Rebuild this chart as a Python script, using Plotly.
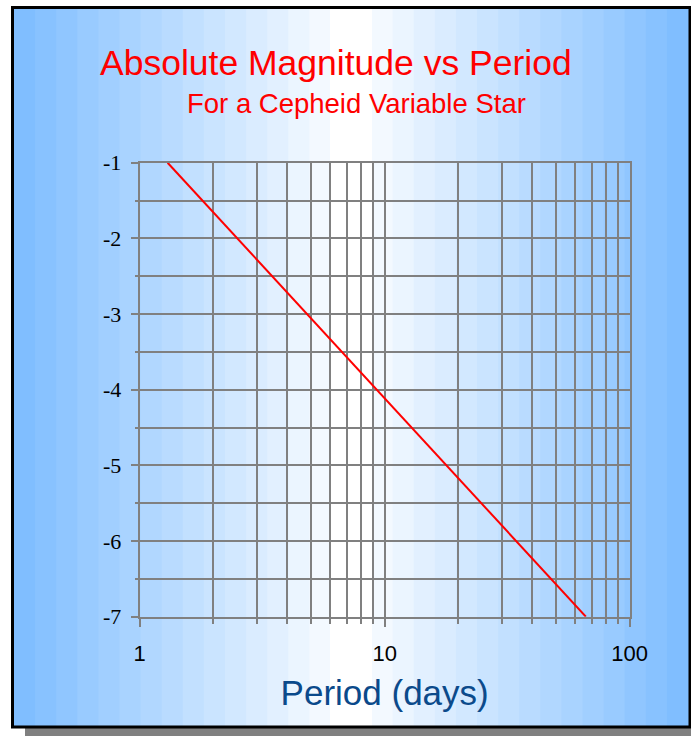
import plotly.graph_objects as go

# Data
period_days = [1.3, 66.3]
abs_magnitude = [-1.0, -7.0]

x_major_ticks = [1, 10, 100]
x_tick_labels = ["1", "10", "100"]
x_minor_ticks = [2, 3, 4, 5, 6, 7, 8, 9, 20, 30, 40, 50, 60, 70, 80, 90]
y_major_ticks = [-1, -2, -3, -4, -5, -6, -7]
y_tick_labels = ["-1", "-2", "-3", "-4", "-5", "-6", "-7"]
y_minor_ticks = [-1.5, -2.5, -3.5, -4.5, -5.5, -6.5]

W, H = 691, 736


def px(x):
    return min(max(x / W, 0), 1)


def py(y):
    return min(max(1 - y / H, 0), 1)


shapes = []
# drop shadow
shapes.append(dict(type="rect", xref="paper", yref="paper", layer="below",
                   x0=px(25), x1=px(691), y0=py(736), y1=py(20),
                   fillcolor="#808080", line=dict(width=0)))
# frame base
shapes.append(dict(type="rect", xref="paper", yref="paper", layer="below",
                   x0=px(12.5), x1=px(690), y0=py(727), y1=py(7.5),
                   fillcolor="rgb(128,190,255)", line=dict(width=0)))
# banded horizontal gradient (blue edges -> white centre)
edge = (128, 190, 255)
n = 15
sw = 21.1
cx = 351
for k in range(n):
    t = (k + 1) / (n + 0.5)
    c = tuple(int(round(e + (255 - e) * t)) for e in edge)
    col = "rgb(%d,%d,%d)" % c
    lx0 = 14 + k * sw
    shapes.append(dict(type="rect", xref="paper", yref="paper", layer="below",
                       x0=px(lx0 + sw), x1=px(cx), y0=py(727), y1=py(7.5),
                       fillcolor=col, line=dict(width=0)))
    rx1 = 688 - k * sw
    shapes.append(dict(type="rect", xref="paper", yref="paper", layer="below",
                       x0=px(cx), x1=px(rx1 - sw), y0=py(727), y1=py(7.5),
                       fillcolor=col, line=dict(width=0)))
shapes.append(dict(type="rect", xref="paper", yref="paper", layer="below",
                   x0=px(cx - 21), x1=px(cx + 21), y0=py(727), y1=py(7.5),
                   fillcolor="white", line=dict(width=0)))
# black border
shapes.append(dict(type="rect", xref="paper", yref="paper", layer="below",
                   x0=px(12.5), x1=px(690), y0=py(727), y1=py(7.5),
                   fillcolor="rgba(0,0,0,0)", line=dict(color="black", width=3)))

fig = go.Figure()
fig.add_trace(go.Scatter(x=period_days, y=abs_magnitude, mode="lines",
                         line=dict(color="#ff0000", width=2), showlegend=False,
                         hoverinfo="skip"))

grid = "#808080"
fig.update_layout(
    width=W, height=H,
    margin=dict(l=0, r=0, t=0, b=0, pad=0, autoexpand=False),
    paper_bgcolor="white",
    plot_bgcolor="rgba(0,0,0,0)",
    shapes=shapes,
    xaxis=dict(
        type="log", range=[0, 2],
        domain=[px(139.7), px(629.6)],
        tickmode="array", tickvals=x_major_ticks, ticktext=x_tick_labels,
        ticks="outside", ticklen=8, tickwidth=2, tickcolor=grid,
        showgrid=True, gridcolor=grid, gridwidth=2,
        showline=True, mirror=True, linecolor=grid, linewidth=2,
        zeroline=False, automargin=False,
        ticklabelstandoff=8,
        tickfont=dict(family="Liberation Sans", size=22, color="black"),
        minor=dict(tickmode="array", tickvals=x_minor_ticks, ticks="outside",
                   ticklen=5, tickwidth=2, tickcolor=grid,
                   showgrid=True, gridcolor=grid, gridwidth=2),
        title=dict(text="Period (days)",
                   font=dict(family="Liberation Sans", size=35, color="#0b4a8b")),
    ),
    yaxis=dict(
        range=[-7, -1],
        domain=[py(616.7), py(162.7)],
        tickmode="array", tickvals=y_major_ticks, ticktext=y_tick_labels,
        ticks="outside", ticklen=7, tickwidth=2, tickcolor=grid,
        showgrid=True, gridcolor=grid, gridwidth=2,
        showline=True, mirror=True, linecolor=grid, linewidth=2,
        zeroline=False, automargin=False,
        ticklabelstandoff=5,
        tickfont=dict(family="Liberation Serif", size=22, color="black"),
        minor=dict(tickmode="array", tickvals=y_minor_ticks, ticks="outside",
                   ticklen=3, tickwidth=2, tickcolor=grid,
                   showgrid=True, gridcolor=grid, gridwidth=2),
    ),
    annotations=[
        dict(text="Absolute Magnitude vs Period", xref="paper", yref="paper",
             x=px(336), y=py(63), xanchor="center", yanchor="middle", showarrow=False,
             font=dict(family="Liberation Sans", size=35.5, color="#ff0000")),
        dict(text="For a Cepheid Variable Star", xref="paper", yref="paper",
             x=px(356), y=py(103), xanchor="center", yanchor="middle", showarrow=False,
             font=dict(family="Liberation Sans", size=27.5, color="#ff0000")),
    ],
)

fig.write_html("out.html", config={"displayModeBar": False},
               post_script="document.body.style.margin='0';document.body.style.overflow='hidden';")
